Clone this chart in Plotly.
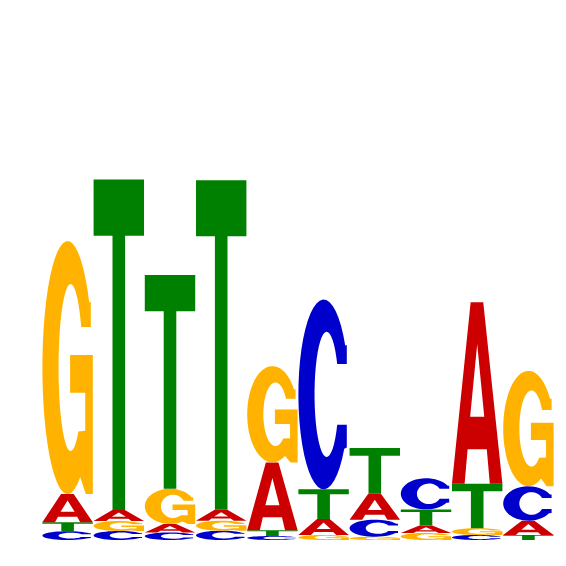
import numpy as np
import plotly.graph_objects as go

# sequence logo, heights in bits
positions = list(range(1, 11))
A_bits = [0.112, 0.044, 0.034, 0.044, 0.270, 0.064, 0.103, 0.030, 0.723, 0.057]
C_bits = [0.035, 0.036, 0.030, 0.037, 0.016, 0.756, 0.068, 0.124, 0.020, 0.137]
G_bits = [1.008, 0.040, 0.140, 0.040, 0.384, 0.020, 0.013, 0.028, 0.027, 0.460]
T_bits = [0.036, 1.316, 0.852, 1.312, 0.023, 0.118, 0.183, 0.064, 0.177, 0.020]

colors = {"A": "#CC0000", "C": "#0000CC", "G": "#FFB300", "T": "#008000"}


def arc(cx, cy, rx, ry, a0, a1, n=40):
    t = np.radians(np.linspace(a0, a1, n))
    return list(zip(cx + rx * np.cos(t), cy + ry * np.sin(t)))


# glyph outlines in a unit box, list of closed subpaths
def glyph(letter):
    if letter == "A":
        outer = [(0, 0), (0.37, 1), (0.62, 1), (1, 0), (0.75, 0), (0.69, 0.19),
                 (0.31, 0.19), (0.25, 0)]
        hole = [(0.36, 0.37), (0.64, 0.37), (0.5, 0.77)]
        return [outer, hole]
    if letter == "T":
        return [[(0, 1), (1, 1), (1, 0.83), (0.625, 0.83), (0.625, 0),
                 (0.375, 0), (0.375, 0.83), (0, 0.83)]]
    if letter == "C":
        pts = arc(0.5, 0.5, 0.5, 0.5, 31, 325)
        pts += [(0.96, 0.22), (0.96, 0.34)]
        pts += arc(0.56, 0.5, 0.24, 0.33, -29, -331)
        pts += [(0.96, 0.66), (0.96, 0.76)]
        return [pts]
    # G
    pts = arc(0.5, 0.5, 0.5, 0.5, 31, 300)
    pts += [(0.86, 0.0), (1.0, 0.0), (1.0, 0.55), (0.55, 0.55), (0.55, 0.40),
            (0.85, 0.40), (0.85, 0.25)]
    pts += arc(0.56, 0.5, 0.24, 0.33, -50, -331)
    pts += [(0.96, 0.66), (0.96, 0.76)]
    return [pts]


def glyph_path(letter, xc, y0, h, w=0.985):
    out = ""
    for sub in glyph(letter):
        coords = ["%.4f,%.5f" % (xc - w / 2 + u * w, y0 + v * h) for u, v in sub]
        out += "M" + " L".join(coords) + " Z "
    return out


shapes = []
for i, pos in enumerate(positions):
    col = {"A": A_bits[i], "C": C_bits[i], "G": G_bits[i], "T": T_bits[i]}
    y = 0.0
    for letter, h in sorted(col.items(), key=lambda kv: kv[1]):
        shapes.append(dict(type="path", xref="x", yref="y",
                           path=glyph_path(letter, pos, y, h),
                           fillcolor=colors[letter], line=dict(width=0)))
        y += h

fig = go.Figure()
fig.add_trace(go.Scatter(x=[positions[0], positions[-1]], y=[0, 0], mode="markers",
                         marker=dict(opacity=0), hoverinfo="skip", showlegend=False))
fig.update_layout(
    width=566, height=566,
    margin=dict(l=34, r=20, t=30, b=34),
    paper_bgcolor="white", plot_bgcolor="white",
    shapes=shapes,
    xaxis=dict(range=[0.5, 10.5], visible=False),
    yaxis=dict(range=[0, 2], visible=False),
)

fig.write_html("out.html")
